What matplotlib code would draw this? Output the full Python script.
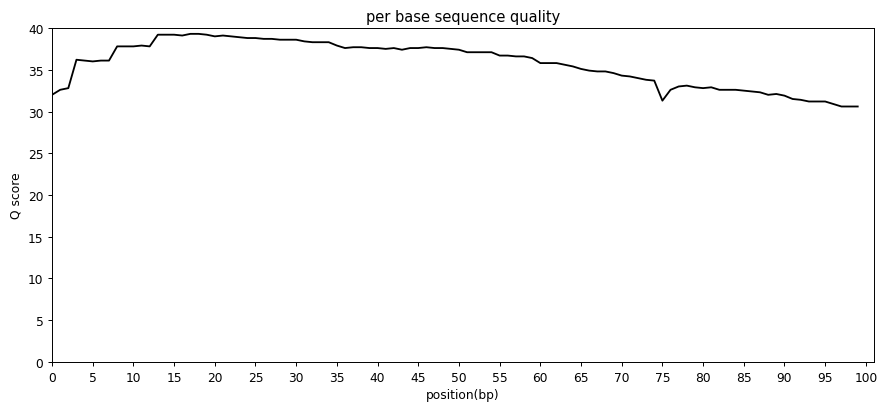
import matplotlib
matplotlib.use('Agg')
import matplotlib.pyplot as plt
import numpy as np

# mean quality per position
positions = np.arange(100)
q_scores = [
    32.0, 32.6, 32.8, 36.2, 36.1, 36.0, 36.1, 36.1, 37.8, 37.8,
    37.8, 37.9, 37.8, 39.2, 39.2, 39.2, 39.1, 39.3, 39.3, 39.2,
    39.0, 39.1, 39.0, 38.9, 38.8, 38.8, 38.7, 38.7, 38.6, 38.6,
    38.6, 38.4, 38.3, 38.3, 38.3, 37.9, 37.6, 37.7, 37.7, 37.6,
    37.6, 37.5, 37.6, 37.4, 37.6, 37.6, 37.7, 37.6, 37.6, 37.5,
    37.4, 37.1, 37.1, 37.1, 37.1, 36.7, 36.7, 36.6, 36.6, 36.4,
    35.8, 35.8, 35.8, 35.6, 35.4, 35.1, 34.9, 34.8, 34.8, 34.6,
    34.3, 34.2, 34.0, 33.8, 33.7, 31.3, 32.6, 33.0, 33.1, 32.9,
    32.8, 32.9, 32.6, 32.6, 32.6, 32.5, 32.4, 32.3, 32.0, 32.1,
    31.9, 31.5, 31.4, 31.2, 31.2, 31.2, 30.9, 30.6, 30.6, 30.6,
]

# reference looks like a 10in figure rendered at ~88 dpi
fig = plt.figure(figsize=(879 / 88, 403 / 88), dpi=88)
ax = fig.add_axes([0.0592, 0.0993, 0.9351, 0.8287])
ax.plot(positions, q_scores, color='black', linewidth=1.5)
ax.set_xlim(0, 101)
ax.set_ylim(0, 40)
ax.set_xticks(np.arange(0, 101, 5))
ax.set_yticks(np.arange(0, 41, 5))
ax.set_title('per base sequence quality')
ax.set_xlabel('position(bp)')
ax.set_ylabel('Q score')

fig.savefig('out.png', dpi=88)
